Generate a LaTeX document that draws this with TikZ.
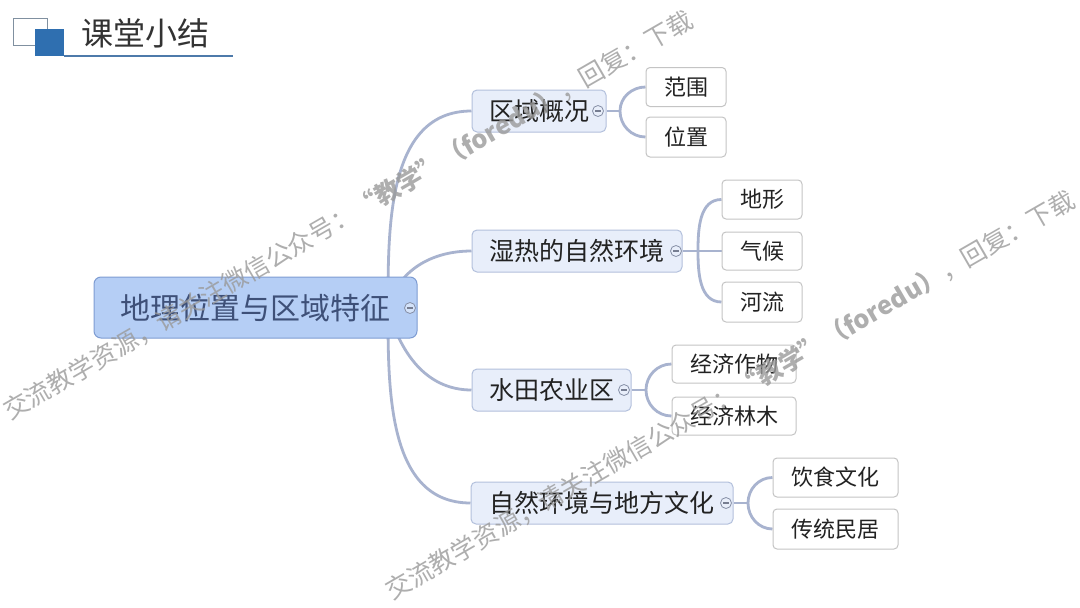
\documentclass[tikz,border=0pt]{standalone}
\usepackage{fontspec}
\setmainfont{Noto Sans CJK SC}
\usetikzlibrary{backgrounds}
\definecolor{rootfill}{HTML}{B5CEF5}
\definecolor{rootdraw}{HTML}{7E9CD2}
\definecolor{roottext}{HTML}{3E5078}
\definecolor{brfill}{HTML}{E8EEFA}
\definecolor{brdraw}{HTML}{B3C0DC}
\definecolor{leafdraw}{HTML}{C4C4C4}
\definecolor{linec}{HTML}{A8B3CF}
\definecolor{txt}{HTML}{222222}
\definecolor{titletxt}{HTML}{333333}
\definecolor{sqblue}{HTML}{2F6FB0}
\definecolor{sqline}{HTML}{8090A0}
\definecolor{uline}{HTML}{4E7AAA}
\definecolor{wm}{HTML}{9A9A9A}
\tikzset{
  rootbox/.style={draw=rootdraw, fill=rootfill, line width=1pt, rounded corners=7pt,
    inner sep=0pt, font=\fontsize{30}{30}\selectfont, text=roottext},
  brbox/.style={draw=brdraw, fill=brfill, line width=1pt, rounded corners=5pt,
    inner sep=0pt, minimum height=42pt, font=\fontsize{25}{25}\selectfont, text=txt},
  leafbox/.style={draw=leafdraw, fill=white, line width=1pt, rounded corners=4pt,
    inner sep=0pt, minimum width=80pt, minimum height=39pt, font=\fontsize{22}{22}\selectfont, text=txt},
  conn/.style={draw=linec, line width=2.8pt},
  knob/.style={circle, draw=linec!80!black, fill=brfill, line width=0.8pt, minimum size=11pt, inner sep=0pt,
    path picture={\draw[linec!70!black, line width=1.4pt] ([xshift=-2.8pt]path picture bounding box.center) -- ([xshift=2.8pt]path picture bounding box.center);}},
  wmark/.style={text=wm, opacity=0.8, font=\fontsize{25.2}{25.2}\selectfont, rotate=30, inner sep=0pt, anchor=base west}
}
\begin{document}
\begin{tikzpicture}[x=1pt,y=-1pt]
\useasboundingbox (0,0) rectangle (1080,608);
\begin{scope}[on background layer]
\fill[white] (0,0) rectangle (1080,608);
\end{scope}
% title
\draw[sqline, line width=0.8pt] (13,18) rectangle (47,45);
\fill[sqblue] (35,29) rectangle (64,56);
\draw[uline, line width=2pt] (64,56) -- (233,56);
\node[anchor=west, inner sep=0pt, text=titletxt, font=\fontsize{32}{32}\selectfont] (title) at (81,33) {课堂小结};
% root
\node[rootbox, minimum width=323pt, minimum height=61pt] (root) at (255.5,307.5) {地理位置与区域特征};
\coordinate (rs) at (388,308);
% branches
\node[brbox, minimum width=134pt] (b1) at (539,111) {区域概况};
\node[brbox, minimum width=210pt] (b2) at (577,251) {湿热的自然环境};
\node[brbox, minimum width=159pt] (b3) at (551.5,390) {水田农业区};
\node[brbox, minimum width=262pt] (b4) at (602,503) {自然环境与地方文化};
% leaves
\node[leafbox] (l11) at (686,87) {范围};
\node[leafbox, minimum height=40pt] (l12) at (686,137) {位置};
\node[leafbox] (l21) at (762,199.5) {地形};
\node[leafbox, minimum height=38pt] (l22) at (762,251) {气候};
\node[leafbox, minimum height=40pt] (l23) at (762,302) {河流};
\node[leafbox, minimum width=124pt, minimum height=38pt] (l31) at (734,364) {经济作物};
\node[leafbox, minimum width=124pt, minimum height=38pt] (l32) at (734,416) {经济林木};
\node[leafbox, minimum width=125pt] (l41) at (835.5,477.5) {饮食文化};
\node[leafbox, minimum width=125pt, minimum height=40pt] (l42) at (835.5,529) {传统民居};
% junctions
\coordinate (j1) at (620,111);
\coordinate (j2) at (698,251);
\coordinate (j3) at (646,390);
\coordinate (j4) at (748,503);
% connectors behind nodes
\begin{scope}[on background layer]
\path[conn] (rs) to[out=90,in=180] (b1.west);
\path[conn] (rs) to[out=75,in=180] (b2.west);
\path[conn] (rs) to[out=-75,in=180] (b3.west);
\path[conn] (rs) to[out=-90,in=180] (b4.west);
\path[conn] (b1.east) -- (j1);
\path[conn] (j1) to[out=90,in=180] (l11.west);
\path[conn] (j1) to[out=-90,in=180] (l12.west);
\path[conn] (b2.east) -- (j2);
\path[conn] (j2) to[out=90,in=180] (l21.west);
\path[conn] (j2) -- (l22.west);
\path[conn] (j2) to[out=-90,in=180] (l23.west);
\path[conn] (b3.east) -- (j3);
\path[conn] (j3) to[out=90,in=180] (l31.west);
\path[conn] (j3) to[out=-90,in=180] (l32.west);
\path[conn] (b4.east) -- (j4);
\path[conn] (j4) to[out=90,in=180] (l41.west);
\path[conn] (j4) to[out=-90,in=180] (l42.west);
\end{scope}
% knobs
\node[knob, fill=rootfill!60!white] (k0) at (410,308) {};
\node[knob] (k1) at (598,111) {};
\node[knob] (k2) at (676,251) {};
\node[knob] (k3) at (624,390) {};
\node[knob] (k4) at (726,503) {};
% watermarks
\node[wmark] (w1) at (10,421) {交流教学资源，请关注微信公众号：{\bfseries “教学”（foredu）}，回复：下载};
\node[wmark] (w2) at (392,601) {交流教学资源，请关注微信公众号：{\bfseries “教学”（foredu）}，回复：下载};
\end{tikzpicture}
\end{document}
